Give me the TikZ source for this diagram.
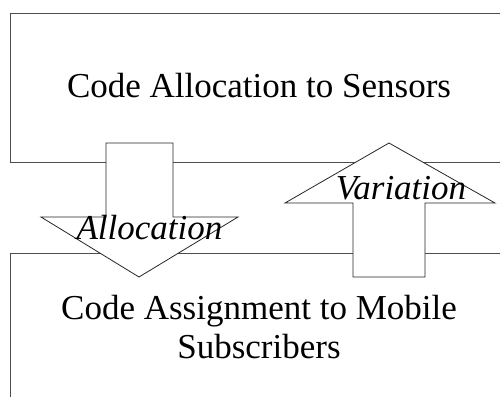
\documentclass[tikz,border=0pt]{standalone}
\usepackage{fontspec}
\setmainfont{Liberation Serif}[ItalicFont={Liberation Serif Italic},BoldFont={Liberation Serif Bold}]
\begin{document}
\begin{tikzpicture}[x=1pt,y=-1pt,
  boxline/.style={draw=black!70,line width=0.9pt},
  blockarrow/.style={draw=black!85,fill=white,line width=0.8pt,line join=miter},
  bigtext/.style={font=\fontsize{35}{39}\selectfont,inner sep=0pt,anchor=base,align=center},
  arrowlabel/.style={font=\fontsize{35}{39}\selectfont\itshape,inner sep=0pt,anchor=base}]
\useasboundingbox (0,0) rectangle (500,397);
% boxes
\draw[boxline] (500,13) -- (10,13) -- (10,162) -- (500,162);
\draw[boxline] (500,253) -- (10,253) -- (10,397);
% block arrows
\draw[blockarrow] (106,143) -- (173,143) -- (173,217) -- (238,217) -- (139,277) -- (41,217) -- (106,217) -- cycle;
\draw[blockarrow] (389,143) -- (495,203) -- (425,203) -- (425,277) -- (353,277) -- (353,203) -- (285,203) -- cycle;
% texts
\node[bigtext] (sensors) at (259,97) {Code Allocation to Sensors};
\node[bigtext] (mobile) at (259,358) {Code Assignment to Mobile\\Subscribers};
\node[arrowlabel] (alloc) at (149.5,239) {Allocation};
\node[arrowlabel] (var) at (401,199) {Variation};
\end{tikzpicture}
\end{document}
